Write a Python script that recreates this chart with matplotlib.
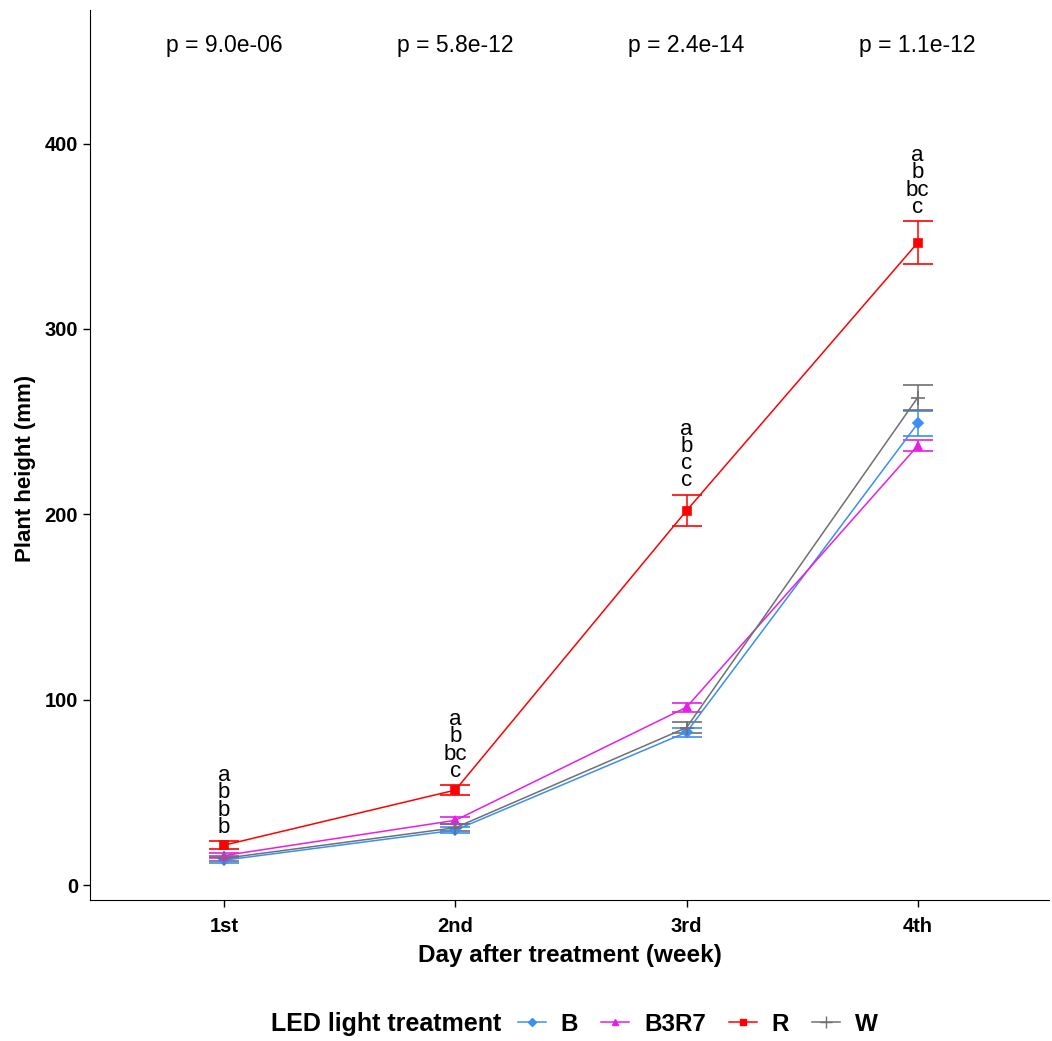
import numpy as np
import matplotlib.pyplot as plt
from matplotlib.lines import Line2D
from matplotlib.offsetbox import HPacker

plt.rcParams['font.family'] = ['Liberation Sans', 'DejaVu Sans']

# tygodnie po zabiegu
weeks = ["1st", "2nd", "3rd", "4th"]
treatments = ["B", "B3R7", "R", "W"]

# srednia wysokosc roslin (mm) i blad standardowy
mean_B = [13.5, 29.7, 82.5, 249.0]
se_B = [1.5, 1.8, 2.5, 7.0]
mean_B3R7 = [16.0, 35.0, 96.0, 237.0]
se_B3R7 = [1.5, 2.0, 2.5, 3.0]
mean_R = [21.6, 51.3, 202.0, 346.5]
se_R = [2.0, 2.5, 8.5, 11.5]
mean_W = [14.5, 31.0, 85.0, 263.0]
se_W = [1.5, 1.8, 2.8, 6.5]

letters = ["a\nb\nb\nb", "a\nb\nbc\nc", "a\nb\nc\nc", "a\nb\nbc\nc"]
p_values = ["p = 9.0e-06", "p = 5.8e-12", "p = 2.4e-14", "p = 1.1e-12"]

colors = {"B": "#3a8ef5", "B3R7": "#e61ee6", "R": "#ff0000", "W": "#707070"}
markers = {"B": "D", "B3R7": "^", "R": "s", "W": "+"}
msize = {"B": 5, "B3R7": 6, "R": 6, "W": 10}
means = {"B": mean_B, "B3R7": mean_B3R7, "R": mean_R, "W": mean_W}
errs = {"B": se_B, "B3R7": se_B3R7, "R": se_R, "W": se_W}

fig = plt.figure(figsize=(10.52, 10.41), dpi=100)
ax = fig.add_axes([0.0856, 0.1354, 0.912, 0.855])

x = np.arange(1, len(weeks) + 1)
for t in treatments:
    ax.errorbar(x, means[t], yerr=errs[t], color=colors[t], marker=markers[t],
                markersize=msize[t], lw=1.1, elinewidth=1.1, capsize=11,
                capthick=1.1, markeredgewidth=1.2)

# litery grup nad czerwona seria, p-wartosci u gory
for i in range(len(weeks)):
    top = mean_R[i] + se_R[i] + 2
    ax.text(x[i], top, letters[i], ha="center", va="bottom", fontsize=16,
            linespacing=0.76)
    ax.text(x[i], 453, p_values[i], ha="center", va="center", fontsize=16.5)

ax.set_xlim(0.42, 4.57)
ax.set_ylim(-8, 472)
ax.set_xticks(x)
ax.set_xticklabels(weeks)
ax.set_yticks([0, 100, 200, 300, 400])
for lab in ax.get_xticklabels() + ax.get_yticklabels():
    lab.set_fontweight("bold")
    lab.set_fontsize(14.5)
ax.tick_params(length=5, width=1)
ax.tick_params(axis="x", pad=7)
ax.spines["top"].set_visible(False)
ax.spines["right"].set_visible(False)
ax.set_xlabel("Day after treatment (week)", fontsize=17.5, fontweight="bold", labelpad=6)
ax.set_ylabel("Plant height (mm)", fontsize=16, fontweight="bold")
ax.yaxis.set_label_coords(-0.056, 0.485)

handles = [Line2D([], [], color=colors[t], marker=markers[t],
                  markersize=msize[t] - 1, lw=1.1) for t in treatments]
leg = fig.legend(handles, treatments, loc="center", bbox_to_anchor=(0.546, 0.016),
                 ncol=4, frameon=False, title="LED light treatment",
                 prop={"weight": "bold", "size": 17.5}, handlelength=1.15,
                 columnspacing=0.95, handletextpad=0.6)
leg.get_title().set_fontweight("bold")
leg.get_title().set_fontsize(18)
# tytul legendy obok wpisow
box = leg._legend_box
box._children = [HPacker(children=box.get_children(), align="center", pad=0, sep=12)]

fig.savefig("out.png", dpi=100)
